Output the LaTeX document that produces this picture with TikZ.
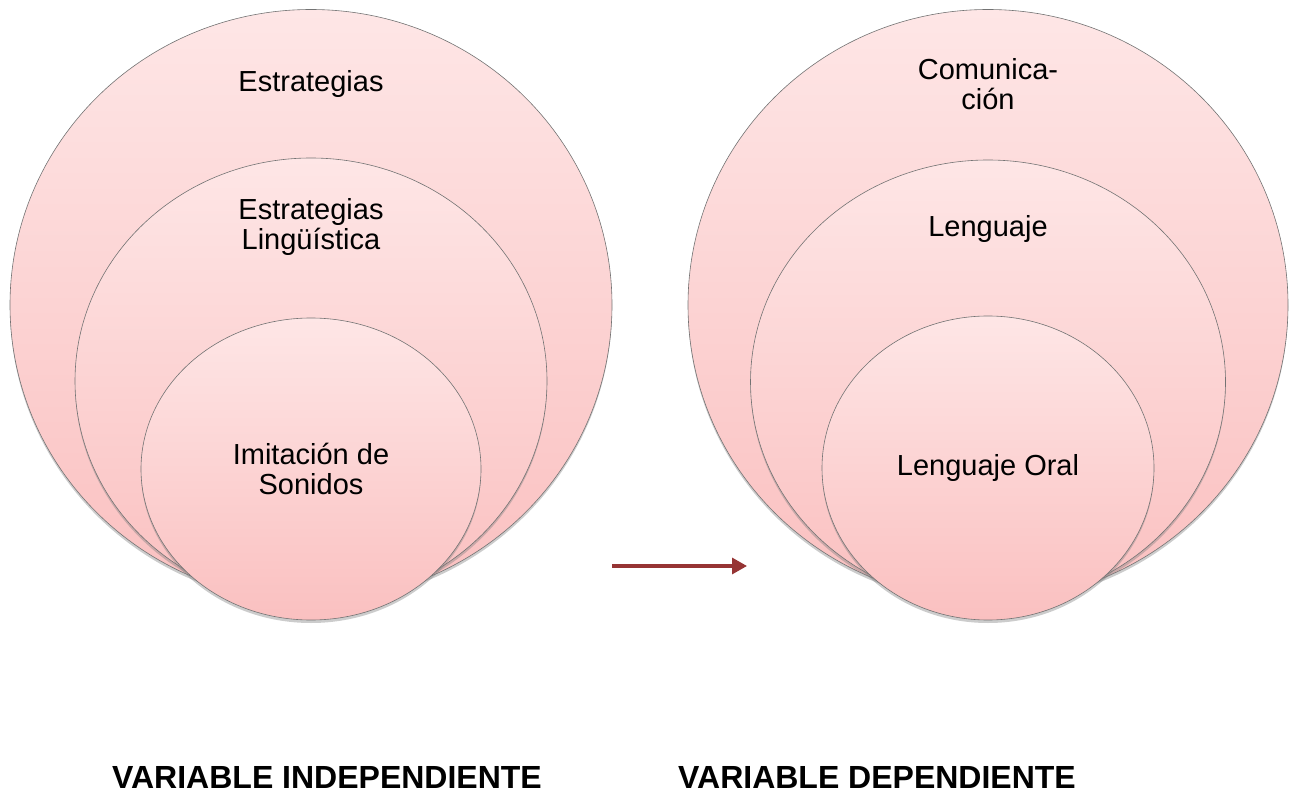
\documentclass[tikz,border=0pt]{standalone}
\usepackage{fontspec}
\setmainfont{Liberation Sans}
\usetikzlibrary{shapes.geometric,shadows,arrows.meta,positioning}
\definecolor{pinkTop}{RGB}{254,230,230}
\definecolor{pinkBot}{RGB}{250,192,192}
\definecolor{arrowRed}{RGB}{150,52,52}
\tikzset{
  ring/.style={ellipse, draw=black!55, line width=0.6pt, inner sep=0pt,
    top color=pinkTop, bottom color=pinkBot,
    drop shadow={opacity=0.4, shadow xshift=0pt, shadow yshift=-3pt}},
  txt/.style={align=center, font=\fontsize{29}{30}\selectfont},
  varlabel/.style={font=\fontsize{32}{34}\selectfont\bfseries}
}
\begin{document}
\begin{tikzpicture}[x=1pt, y=-1pt]
   \useasboundingbox (0,0) rectangle (1298,794);

   % variable independiente
   \node[ring, minimum width=602pt, minimum height=591pt] (outL) at (311,305) {};
   \node[ring, minimum width=472pt, minimum height=446pt] (midL) at (311,381) {};
   \node[ring, minimum width=340pt, minimum height=302pt] (inL) at (311,469) {};
   \node[txt] (tOutL) at ([yshift=-75pt]outL.north) {Estrategias};
   \node[txt] (tMidL) at ([yshift=-69pt]midL.north) {Estrategias\\Lingüística};
   \node[txt] (tInL) at (inL.center) {Imitación de\\Sonidos};

   % variable dependiente
   \node[ring, minimum width=600pt, minimum height=591pt] (outR) at (988,305) {};
   \node[ring, minimum width=475pt, minimum height=444pt] (midR) at (988,382) {};
   \node[ring, minimum width=332pt, minimum height=304pt] (inR) at (988,468) {};
   \node[txt] (tOutR) at ([yshift=-75pt]outR.north) {Comunica-\\ción};
   \node[txt] (tMidR) at ([yshift=-69pt]midR.north) {Lenguaje};
   \node[txt] (tInR) at (inR.center) {Lenguaje Oral};

   \coordinate (arrS) at (612,566);
   \coordinate (arrE) at (747,566);
   \draw[arrowRed, line width=3.2pt, -{Triangle[length=15pt,width=16pt]}] (arrS) -- (arrE);

   \node[varlabel] (indep) at (327,777) {VARIABLE INDEPENDIENTE};
   \node[varlabel] (dep) at (877,777) {VARIABLE DEPENDIENTE};
\end{tikzpicture}
\end{document}
